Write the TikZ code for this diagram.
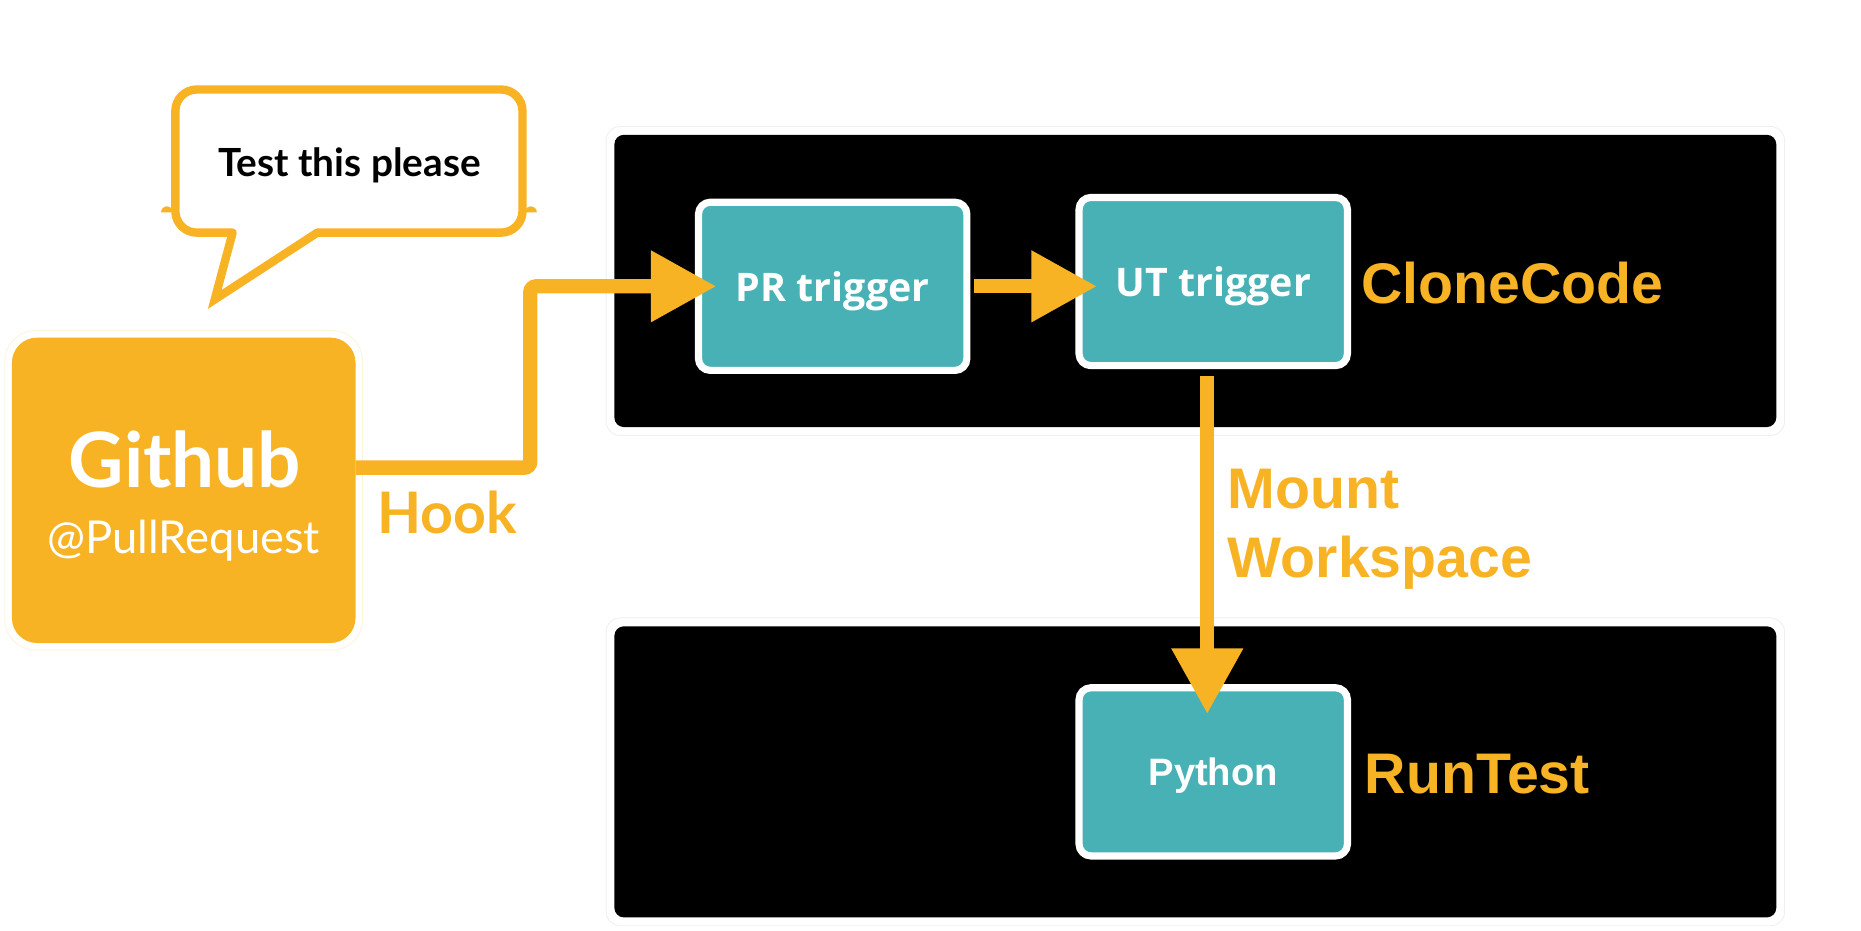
\documentclass[tikz,border=0pt]{standalone}
\usepackage{fontspec}
\setmainfont{Liberation Sans}
\newfontfamily\gillfont{Lato}
\newfontfamily\trigfont{Open Sans}
\usetikzlibrary{arrows.meta}
\definecolor{hookorange}{HTML}{F7B324}
\definecolor{boxteal}{HTML}{48B1B5}
\tikzset{
  panel/.style={fill=black, rounded corners=8pt, minimum width=974pt, minimum height=245pt, inner sep=0pt},
  ghost/.style={draw=black!6, line width=0.8pt, rounded corners=12pt},
  trigger/.style={draw=white, line width=6pt, fill=boxteal, rounded corners=10pt, minimum width=225pt, minimum height=141pt, text depth=0pt, text=white, font=\trigfont\bfseries\fontsize{33}{36}\selectfont},
  tag/.style={text=hookorange, font=\bfseries\fontsize{48}{56}\selectfont, inner sep=0pt},
  fatarrow/.style={draw=hookorange, line width=12pt, -{Triangle[length=55pt,width=57pt]}},
}

\begin{document}
\begin{tikzpicture}[x=1pt,y=-1pt]
    \useasboundingbox (0,0) rectangle (1560,780);

    % github side
    \draw[draw=hookorange!15, line width=0.8pt, rounded corners=26pt] (4,277) rectangle (304,545);
    \node[fill=hookorange, rounded corners=21pt, minimum width=288pt, minimum height=256pt] (github) at (154,411) {};
    \node[text=white, font=\gillfont\bfseries\fontsize{64}{68}\selectfont, anchor=base] (githubname) at (155,409) {Github};
    \node[text=white, font=\gillfont\fontsize{38}{42}\selectfont, anchor=base] (githubevent) at (154,464) {@PullRequest};

    % speech bubble
    \draw[draw=hookorange, line width=7pt, fill=white, rounded corners=18pt] (147,75) rectangle (438,195);
    \fill[white] (195,191) -- (180,251) -- (266,191) -- cycle;
    \draw[hookorange, line width=7pt, line cap=round] (195,195) -- (180,251) -- (266,195);
    \fill[hookorange] (145,178) arc[start angle=0, end angle=180, radius=5pt];
    \fill[hookorange] (450,178) arc[start angle=0, end angle=180, radius=5pt];
    \node[font=\gillfont\bfseries\fontsize{32.5}{36}\selectfont, anchor=base] (please) at (293,148) {Test this please};

    % panels
    \draw[ghost] (508,106) rectangle (1496,365);
    \draw[ghost] (508,518) rectangle (1496,776);
    \node[panel] (clonepanel) at (1002,235.5) {};
    \node[panel, minimum height=244pt] (runpanel) at (1002,647) {};

    \node[trigger] (pr) at (698,240) {PR trigger};
    \node[trigger] (ut) at (1017,236) {UT trigger};
    \node[trigger, font=\bfseries\fontsize{32}{36}\selectfont] (python) at (1017,647) {Python};

    \node[tag, anchor=base west] (clonetag) at (1141,254) {CloneCode};
    \node[tag, anchor=base west] (runtag) at (1144,665) {RunTest};
    \node[tag, anchor=base west] (mounttag) at (1029,426) {Mount};
    \node[tag, anchor=base west] (worktag) at (1029,484) {Workspace};
    \node[tag, font=\gillfont\bfseries\fontsize{48}{56}\selectfont, anchor=base west] (hooktag) at (316,447) {Hook};

    % connectors
    \draw[fatarrow, rounded corners=5pt] ([yshift=19pt]github.east) -| ([xshift=-138pt]pr.west) -- ([xshift=18pt]pr.west);
    \draw[fatarrow] ([xshift=3pt]pr.east) -- ([xshift=18pt]ut.west |- pr.east);
    \draw[fatarrow] ([xshift=-5pt,yshift=-6pt]ut.south) -- ([xshift=-5pt,yshift=-25pt]python.north);

\end{tikzpicture}
\end{document}
